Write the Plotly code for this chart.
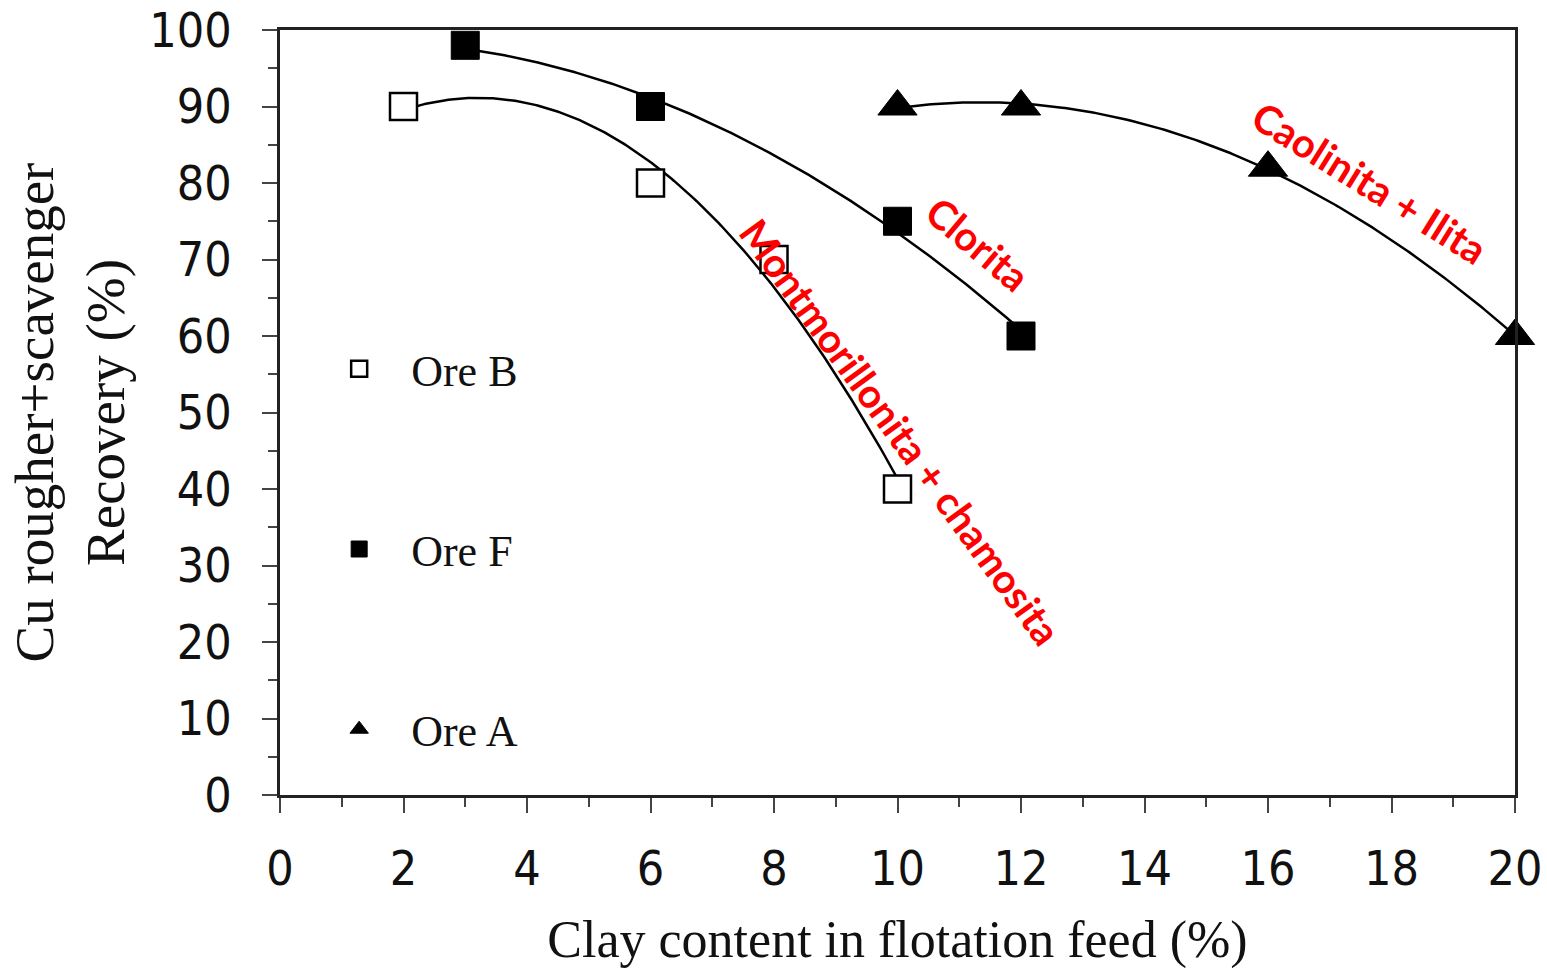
import numpy as np
import plotly.graph_objects as go

# ---- data ----
ore_b_x = [2, 6, 8, 10]
ore_b_y = [90, 80, 70, 40]
ore_f_x = [3, 6, 10, 12]
ore_f_y = [98, 90, 75, 60]
ore_a_x = [10, 12, 16, 20]
ore_a_y = [90, 90, 82, 60]

x_ticks = [0, 2, 4, 6, 8, 10, 12, 14, 16, 18, 20]
y_ticks = [0, 10, 20, 30, 40, 50, 60, 70, 80, 90, 100]

labels = {
    "Clorita": (11.3, 72.0, 40),
    "Montmorillonita + chamosita": (10.05, 47.5, 54),
    "Caolinita + Ilita": (17.65, 80.0, 32),
}

TICK_FONT = "DejaVu Sans Condensed, Liberation Sans Narrow, DejaVu Sans"
SERIF = "Liberation Serif, DejaVu Serif, serif"


def trend(xs, ys):
    # second order polynomial trendline (as in the original spreadsheet chart)
    coef = np.polyfit(xs, ys, 2)
    xx = np.linspace(min(xs), max(xs), 200)
    return xx, np.polyval(coef, xx)


fig = go.Figure()

for xs, ys in [(ore_b_x, ore_b_y), (ore_f_x, ore_f_y), (ore_a_x, ore_a_y)]:
    tx, ty = trend(xs, ys)
    fig.add_trace(go.Scatter(x=tx, y=ty, mode="lines",
                             line=dict(color="black", width=2.5),
                             showlegend=False, hoverinfo="skip"))

fig.add_trace(go.Scatter(x=ore_b_x, y=ore_b_y, mode="markers", name="Ore B",
                         legendgroup="b", cliponaxis=False,
                         marker=dict(symbol="square", size=27, color="white",
                                     line=dict(color="black", width=2.5))))
fig.add_trace(go.Scatter(x=ore_f_x, y=ore_f_y, mode="markers", name="Ore F",
                         legendgroup="f", cliponaxis=False,
                         marker=dict(symbol="square", size=28, color="black",
                                     line=dict(color="black", width=1))))
fig.add_trace(go.Scatter(x=ore_a_x, y=ore_a_y, mode="markers", name="Ore A",
                         legendgroup="a", cliponaxis=False,
                         marker=dict(symbol="triangle-up", size=34, color="black",
                                     line=dict(color="black", width=1))))

for text, (ax, ay, ang) in labels.items():
    fig.add_annotation(x=ax, y=ay, text=f"<b>{text}</b>", textangle=ang,
                       showarrow=False, xanchor="center", yanchor="middle",
                       font=dict(family="Lato, Open Sans, sans-serif", size=40,
                                 color="#FF0000"))

axis_common = dict(
    showgrid=False, zeroline=False, showline=True, linecolor="#222",
    linewidth=2.5, mirror=True, ticks="outside", ticklen=15, tickwidth=2,
    tickcolor="#444", automargin=False, ticklabeloverflow="allow",
    tickfont=dict(family=TICK_FONT, size=48, color="#111"),
)

fig.update_xaxes(range=[0, 20], tickvals=x_ticks,
                 minor=dict(ticks="outside", ticklen=9, dtick=1, tickwidth=2,
                            tickcolor="#444"),
                 ticklabelstandoff=15,
                 title=dict(text="Clay content in flotation feed (%)",
                            font=dict(family=SERIF, size=52, color="#111"),
                            standoff=26),
                 **axis_common)
fig.update_yaxes(range=[0, 100], tickvals=y_ticks,
                 minor=dict(ticks="outside", ticklen=9, dtick=5, tickwidth=2,
                            tickcolor="#444"),
                 ticklabelstandoff=21,
                 title=dict(text="Cu rougher+scavenger<br>Recovery (%)",
                            font=dict(family=SERIF, size=55, color="#111"),
                            standoff=7),
                 **axis_common)

fig.update_layout(
    width=1547, height=979,
    margin=dict(l=280, r=32, t=30, b=184),
    plot_bgcolor="white", paper_bgcolor="white",
    legend=dict(x=0.022, y=0.603, xanchor="left", yanchor="top",
                traceorder="grouped", tracegroupgap=120, itemwidth=94,
                font=dict(family=SERIF, size=44, color="#111"),
                bgcolor="rgba(0,0,0,0)"),
)

# remove the default 8 px page margin so the figure fills the window exactly
fig.write_html("out.html",
               config={"displayModeBar": False},
               post_script="document.body.style.margin='0';"
                           "document.body.style.overflow='hidden';")
